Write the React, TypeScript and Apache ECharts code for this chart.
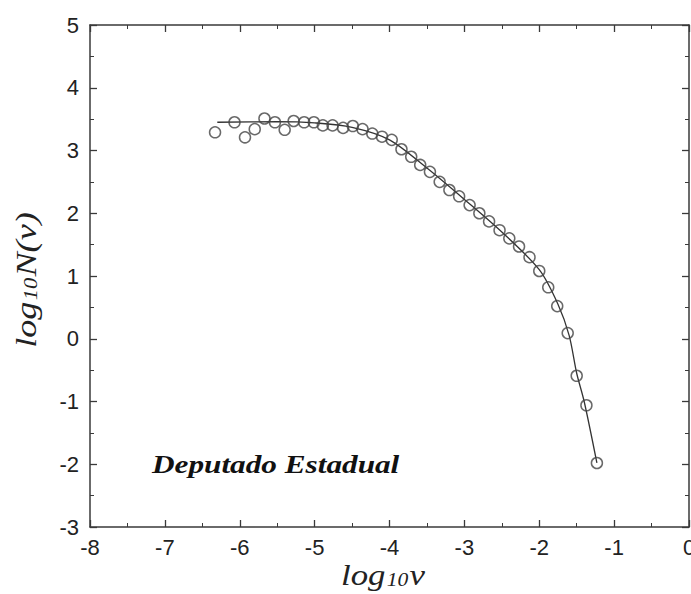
import React, { useEffect, useRef } from "react";
import * as echarts from "echarts";

// Observed log-binned distribution (log10 v, log10 N(v))
const obsX = [
  -6.33, -6.07, -5.93, -5.8, -5.67, -5.53, -5.4, -5.28, -5.14, -5.01, -4.89,
  -4.76, -4.62, -4.49, -4.36, -4.23, -4.1, -3.97, -3.84, -3.71, -3.59, -3.46,
  -3.33, -3.2, -3.07, -2.93, -2.8, -2.67, -2.53, -2.4, -2.27, -2.13, -2.0,
  -1.88, -1.76, -1.62, -1.5, -1.37, -1.23,
];
const obsY = [
  3.29, 3.45, 3.21, 3.34, 3.51, 3.45, 3.33, 3.47, 3.45, 3.45, 3.4, 3.4, 3.36,
  3.39, 3.34, 3.27, 3.22, 3.17, 3.02, 2.9, 2.77, 2.66, 2.5, 2.37, 2.27, 2.13,
  2.0, 1.87, 1.73, 1.6, 1.47, 1.3, 1.08, 0.82, 0.52, 0.09, -0.59, -1.06, -1.98,
];

// Fitted curve
const fitX = [
  -6.3, -5.5, -5.0, -4.5, -4.0, -3.5, -3.0, -2.5, -2.0, -1.75, -1.6, -1.5,
  -1.4, -1.23,
];
const fitY = [
  3.45, 3.46, 3.44, 3.37, 3.17, 2.72, 2.22, 1.7, 1.1, 0.55, 0.05, -0.55, -1.0,
  -1.98,
];

const xTicks = [-8, -7, -6, -5, -4, -3, -2, -1, 0];
const yTicks = [-3, -2, -1, 0, 1, 2, 3, 4, 5];
const panelLabel = "Deputado Estadual";
const xTitle = "{a|log}{sub|10}{a|v}";
const yTitle = "{a|log}{sub|10}{a|N(v)}";

const AXIS_COLOR = "#3a3a3a";
const SERIF = "Liberation Serif, Times New Roman, serif";

export default function App() {
  const ref = useRef<HTMLDivElement>(null);

  useEffect(() => {
    if (!ref.current) return;
    const chart = echarts.init(ref.current, null, { renderer: "svg" });

    const tickCommon = {
      axisLine: { show: true, onZero: false, lineStyle: { color: AXIS_COLOR, width: 1.5 } },
      axisTick: { show: true, inside: true, length: 7, lineStyle: { color: AXIS_COLOR, width: 1.3 } },
      minorTick: { show: true, splitNumber: 2, length: 4, lineStyle: { color: AXIS_COLOR, width: 1 } },
      splitLine: { show: false },
    };

    const labelFont = {
      fontFamily: "Liberation Sans, Arial, sans-serif",
      fontSize: 22,
      color: "#222",
    };

    // Italic serif title with a lowered "10" subscript
    const titleRich = {
      a: { fontFamily: SERIF, fontStyle: "italic", fontSize: 29, fill: "#222" },
      sub: {
        fontFamily: SERIF,
        fontStyle: "italic",
        fontSize: 18,
        fill: "#222",
        padding: [10, 1, 0, 1],
      },
    };

    chart.setOption({
      animation: false,
      backgroundColor: "#ffffff",
      grid: { left: 90, right: 2, top: 25, bottom: 67, containLabel: false, outerBoundsMode: "none" },
      xAxis: [
        {
          type: "value",
          position: "bottom",
          min: xTicks[0],
          max: xTicks[xTicks.length - 1],
          interval: 1,
          ...tickCommon,
          axisLabel: { ...labelFont, margin: 9 },
        },
        {
          type: "value",
          position: "top",
          min: xTicks[0],
          max: xTicks[xTicks.length - 1],
          interval: 1,
          ...tickCommon,
          axisLabel: { show: false },
        },
      ],
      yAxis: [
        {
          type: "value",
          position: "left",
          min: yTicks[0],
          max: yTicks[yTicks.length - 1],
          interval: 1,
          ...tickCommon,
          axisLabel: { ...labelFont, margin: 11 },
        },
        {
          type: "value",
          position: "right",
          min: yTicks[0],
          max: yTicks[yTicks.length - 1],
          interval: 1,
          ...tickCommon,
          axisLabel: { show: false },
        },
      ],
      graphic: [
        {
          type: "text",
          x: 383,
          y: 575,
          scaleX: 1.2,
          style: {
            text: xTitle,
            rich: titleRich,
            align: "center",
            verticalAlign: "middle",
          },
        },
        {
          type: "text",
          x: 26,
          y: 280,
          rotation: Math.PI / 2,
          scaleX: 1.25,
          style: {
            text: yTitle,
            rich: titleRich,
            align: "center",
            verticalAlign: "middle",
          },
        },
        {
          type: "text",
          left: 152,
          top: 452,
          scaleX: 1.25,
          style: {
            text: panelLabel,
            fontFamily: SERIF,
            fontStyle: "italic",
            fontWeight: "bold",
            fontSize: 25,
            fill: "#111",
          },
        },
      ],
      series: [
        {
          type: "line",
          data: fitX.map((x, i) => [x, fitY[i]]),
          smooth: 0.3,
          showSymbol: false,
          lineStyle: { color: "#333", width: 1.3 },
          z: 2,
        },
        {
          type: "scatter",
          data: obsX.map((x, i) => [x, obsY[i]]),
          symbol: "circle",
          symbolSize: 11,
          itemStyle: { color: "rgba(255,255,255,0)", borderColor: "#444", borderWidth: 1.5 },
          z: 3,
        },
      ],
    });

    return () => chart.dispose();
  }, []);

  return (
    <div
      ref={ref}
      style={{ position: "absolute", left: 0, top: 0, width: 691, height: 594 }}
    />
  );
}
